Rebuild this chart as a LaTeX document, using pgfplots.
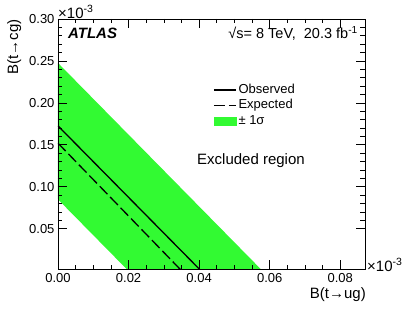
\documentclass[border=0pt]{standalone}
\usepackage{fontspec}
\setmainfont{Liberation Sans}
\usepackage{pgfplots}
\pgfplotsset{compat=1.18}
\definecolor{bandgreen}{RGB}{50,250,50}

\begin{document}
\begin{tikzpicture}
\useasboundingbox (-58pt,-53pt) rectangle (349pt,269pt);
\begin{axis}[
    at={(0pt,0pt)}, anchor=south west,
    scale only axis, width=307pt, height=250pt,
    xmin=0, xmax=0.087, ymin=0.002, ymax=0.30,
    xtick={0,0.02,0.04,0.06,0.08},
    ytick={0.05,0.10,0.15,0.20,0.25,0.30},
    minor x tick num=3, minor y tick num=4,
    scaled ticks=false,
    tick align=inside,
    major tick length=9pt, minor tick length=4.5pt,
    axis line style={line width=0.8pt},
    tick style={line width=0.7pt, black},
    /pgf/number format/assume math mode=true,
    /pgf/number format/fixed, /pgf/number format/fixed zerofill,
    /pgf/number format/precision=2,
    tick label style={font=\fontsize{13}{15}\selectfont},
    xticklabel style={yshift=-1pt},
    axis on top,
    legend style={at={(0.505,0.748)}, anchor=north west, draw=none, fill=none,
        inner sep=0pt, font=\fontsize{13}{15}\selectfont,
        nodes={inner xsep=2pt, inner ysep=0pt, text height=11pt, text depth=4.5pt}},
    legend cell align=left,
]
% +-1 sigma band
\addplot[fill=bandgreen, draw=none, forget plot] coordinates {
    (0,0.2476) (0.0579,0) (0.0199,0) (0,0.085)
} -- cycle;
% expected
\addplot[black, line width=1.3pt, dash pattern=on 11pt off 4pt, forget plot] coordinates {
    (0,0.152) (0.0350,0)
};
% observed
\addplot[black, line width=1.3pt, forget plot] coordinates {
    (0,0.1726) (0.0405,0)
};
\addlegendimage{legend image code/.code={\draw[black, line width=1.3pt] (0pt,0pt) -- (22pt,0pt);}}
\addlegendentry{Observed}
\addlegendimage{legend image code/.code={\draw[black, line width=1.3pt, dash pattern=on 11pt off 4pt] (0pt,0pt) -- (22pt,0pt);}}
\addlegendentry{Expected}
\addlegendimage{legend image code/.code={\fill[bandgreen] (0pt,-4pt) rectangle (22pt,4pt);}}
\addlegendentry{± 1σ}
\end{axis}

\node[anchor=base west, inner sep=0pt, font=\fontsize{15}{18}\selectfont\bfseries\itshape] at (10pt,230pt) {ATLAS};
\node[anchor=base east, inner sep=0pt, font=\fontsize{14.5}{16}\selectfont] at (300pt,230pt) {√s= 8 TeV,\ \ 20.3 fb\textsuperscript{-1}};
\node[anchor=base west, inner sep=0pt, font=\fontsize{15}{18}\selectfont] at (139pt,105pt) {Excluded region};
\node[anchor=base west, inner sep=0pt, font=\fontsize{15}{17}\selectfont] at (0pt,251pt) {×10\textsuperscript{-3}};
\node[anchor=base west, inner sep=0pt, font=\fontsize{15}{17}\selectfont] at (309pt,-2pt) {×10\textsuperscript{-3}};
\node[anchor=base east, inner sep=0pt, font=\fontsize{15}{17}\selectfont] at (308pt,-29pt) {B(t→ug)};
\node[rotate=90, anchor=north east, inner sep=0pt, font=\fontsize{15}{17}\selectfont] at (-51pt,250pt) {B(t→cg)};
\end{tikzpicture}
\end{document}
